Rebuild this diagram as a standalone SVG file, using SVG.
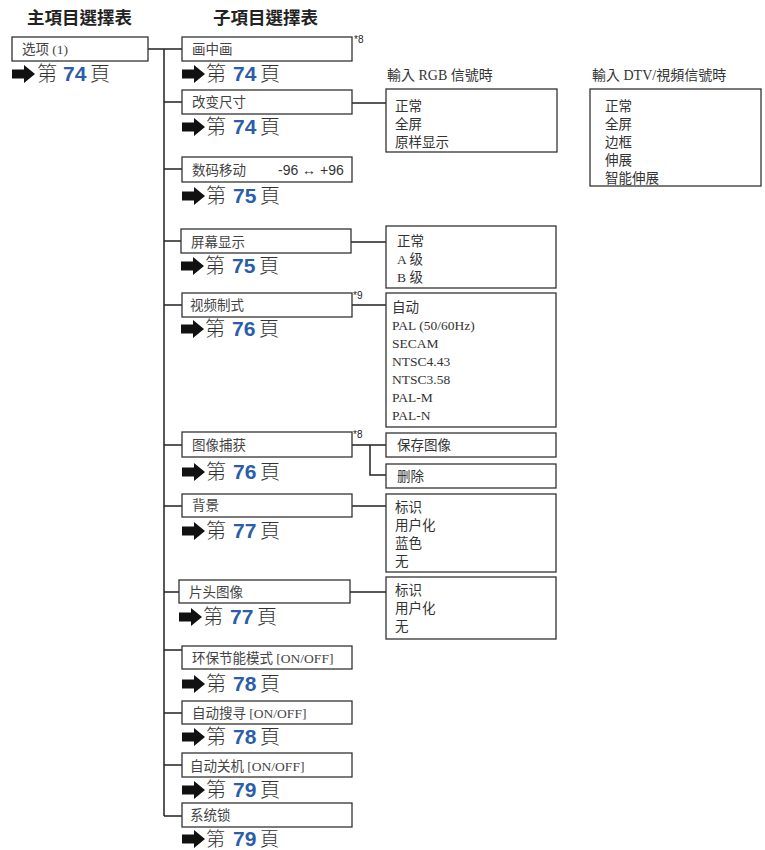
<svg xmlns="http://www.w3.org/2000/svg" width="765" height="850" viewBox="0 0 765 850">
<style>
.bx{fill:#fff;stroke:#333;stroke-width:1.3}
.ln{fill:none;stroke:#222;stroke-width:1.5}
.lb{font-family:"Liberation Serif","Noto Sans CJK SC",serif;font-size:13.5px;fill:#444}
.op{font-family:"Liberation Serif","Noto Sans CJK SC",serif;font-size:13.5px;fill:#333}
.hd{font-family:"Liberation Sans","Noto Sans CJK TC",sans-serif;font-size:17.5px;font-weight:bold;fill:#222}
.sh{font-family:"Liberation Serif","Noto Sans CJK TC",serif;font-size:14px;fill:#333}
.pg{font-family:"Noto Sans CJK TC",sans-serif;font-size:20px;fill:#333;font-weight:300}
.pg2{font-family:"Noto Sans CJK TC",sans-serif;font-size:19px;fill:#333;font-weight:300}
.nm{font-family:"Liberation Sans",sans-serif;font-size:21px;font-weight:bold;fill:#2b5dab}
.st{font-family:"Liberation Sans",sans-serif;font-size:10px;fill:#222}
.sa{font-family:"Liberation Sans",sans-serif;font-size:14px;fill:#333}
.ar{fill:#111}
</style>
<defs>
<path id="arrow" d="M0,-4.5 H12 V-9 L23,0 L12,9 V4.5 H0 Z"/>
</defs>

<text class="hd" x="27" y="24">主項目選擇表</text>
<text class="hd" x="213" y="24">子項目選擇表</text>

<g id="connectors">
<path class="ln" d="M148,49 H164 M164,49 V816 M164,49 H182 M164,102 H182 M164,169 H182 M164,241 H182 M164,305 H182 M164,445 H182 M164,506 H182 M164,592 H179 M164,650 H182 M164,713 H182 M164,765 H182 M164,816 H182"/>
<path class="ln" d="M352,103 H386 M351,242 H386 M352,305 H386 M352,445 H386 M370,445 V475 H386 M352,506 H386 M350,592 H386"/>
</g>

<g id="main">
<rect class="bx" x="12" y="37" width="136" height="24"/>
<text class="lb" x="22" y="54">选项 (1)</text>
<use href="#arrow" class="ar" x="12" y="74"/>
<text x="37" y="81"><tspan class="pg">第</tspan><tspan class="nm" x="63">74</tspan><tspan class="pg" x="90">頁</tspan></text>
</g>

<g id="pip">
<rect class="bx" x="182" y="37" width="170" height="24"/>
<text class="lb" x="192" y="54">画中画</text>
<text class="st" x="354" y="43">*8</text>
<use href="#arrow" class="ar" x="182" y="74"/>
<text x="206" y="81"><tspan class="pg">第</tspan><tspan class="nm" x="233">74</tspan><tspan class="pg" x="260">頁</tspan></text>
</g>

<g id="resize">
<rect class="bx" x="182" y="90" width="170" height="24"/>
<text class="lb" x="192" y="107">改变尺寸</text>
<use href="#arrow" class="ar" x="182" y="127"/>
<text x="206" y="134"><tspan class="pg">第</tspan><tspan class="nm" x="233">74</tspan><tspan class="pg" x="260">頁</tspan></text>
</g>

<g id="rgb-options">
<text class="sh" x="387" y="80">輸入 RGB 信號時</text>
<rect class="bx" x="386" y="89" width="171" height="63"/>
<text class="op" x="395" y="111">正常</text>
<text class="op" x="395" y="129">全屏</text>
<text class="op" x="395" y="147">原样显示</text>
</g>

<g id="dtv-options">
<text class="sh" x="592" y="80">輸入 DTV/視頻信號時</text>
<rect class="bx" x="590" y="89" width="171" height="97"/>
<text class="op" x="605" y="111">正常</text>
<text class="op" x="605" y="129">全屏</text>
<text class="op" x="605" y="147">边框</text>
<text class="op" x="605" y="165">伸展</text>
<text class="op" x="605" y="183">智能伸展</text>
</g>

<g id="digital-shift">
<rect class="bx" x="182" y="157" width="170" height="25"/>
<text class="lb" x="192" y="175">数码移动</text>
<text class="sa" x="278" y="175">-96 ↔ +96</text>
<use href="#arrow" class="ar" x="182" y="196"/>
<text x="206" y="203"><tspan class="pg">第</tspan><tspan class="nm" x="233">75</tspan><tspan class="pg" x="260">頁</tspan></text>
</g>

<g id="osd">
<rect class="bx" x="181" y="229" width="170" height="24"/>
<text class="lb" x="191" y="247">屏幕显示</text>
<use href="#arrow" class="ar" x="181" y="266"/>
<text x="205" y="273"><tspan class="pg">第</tspan><tspan class="nm" x="232">75</tspan><tspan class="pg" x="259">頁</tspan></text>
<rect class="bx" x="386" y="226" width="170" height="62"/>
<text class="op" x="397" y="246">正常</text>
<text class="op" x="397" y="264">A 级</text>
<text class="op" x="397" y="282">B 级</text>
</g>

<g id="video-system">
<rect class="bx" x="182" y="293" width="170" height="24"/>
<text class="lb" x="190" y="310">视频制式</text>
<text class="st" x="353" y="299">*9</text>
<use href="#arrow" class="ar" x="181" y="329"/>
<text x="205" y="336"><tspan class="pg">第</tspan><tspan class="nm" x="232">76</tspan><tspan class="pg" x="259">頁</tspan></text>
<rect class="bx" x="386" y="293" width="170" height="134"/>
<text class="op" x="392" y="312">自动</text>
<text class="op" x="392" y="330">PAL (50/60Hz)</text>
<text class="op" x="392" y="348">SECAM</text>
<text class="op" x="392" y="366">NTSC4.43</text>
<text class="op" x="392" y="384">NTSC3.58</text>
<text class="op" x="392" y="402">PAL-M</text>
<text class="op" x="392" y="420">PAL-N</text>
</g>

<g id="capture">
<rect class="bx" x="182" y="432" width="170" height="25"/>
<text class="lb" x="192" y="450">图像捕获</text>
<text class="st" x="353" y="438">*8</text>
<use href="#arrow" class="ar" x="182" y="472"/>
<text x="206" y="479"><tspan class="pg">第</tspan><tspan class="nm" x="233">76</tspan><tspan class="pg" x="260">頁</tspan></text>
<rect class="bx" x="386" y="433" width="170" height="24"/>
<text class="op" x="397" y="450">保存图像</text>
<rect class="bx" x="386" y="464" width="170" height="24"/>
<text class="op" x="397" y="481">删除</text>
</g>

<g id="background">
<rect class="bx" x="182" y="494" width="170" height="23"/>
<text class="lb" x="192" y="510">背景</text>
<use href="#arrow" class="ar" x="182" y="531"/>
<text x="206" y="538"><tspan class="pg">第</tspan><tspan class="nm" x="233">77</tspan><tspan class="pg" x="260">頁</tspan></text>
<rect class="bx" x="386" y="494" width="170" height="78"/>
<text class="op" x="395" y="512">标识</text>
<text class="op" x="395" y="530">用户化</text>
<text class="op" x="395" y="548">蓝色</text>
<text class="op" x="395" y="566">无</text>
</g>

<g id="startup-image">
<rect class="bx" x="179" y="580" width="171" height="23"/>
<text class="lb" x="189" y="597">片头图像</text>
<use href="#arrow" class="ar" x="179" y="617"/>
<text x="203" y="624"><tspan class="pg">第</tspan><tspan class="nm" x="230">77</tspan><tspan class="pg" x="257">頁</tspan></text>
<rect class="bx" x="386" y="577" width="170" height="62"/>
<text class="op" x="395" y="595">标识</text>
<text class="op" x="395" y="613">用户化</text>
<text class="op" x="395" y="631">无</text>
</g>

<g id="eco-mode">
<rect class="bx" x="182" y="646" width="170" height="23"/>
<text class="lb" x="192" y="663">环保节能模式 [ON/OFF]</text>
<use href="#arrow" class="ar" x="182" y="684"/>
<text x="206" y="691"><tspan class="pg">第</tspan><tspan class="nm" x="233">78</tspan><tspan class="pg" x="260">頁</tspan></text>
</g>

<g id="auto-search">
<rect class="bx" x="182" y="701" width="170" height="23"/>
<text class="lb" x="192" y="718">自动搜寻  [ON/OFF]</text>
<use href="#arrow" class="ar" x="182" y="737"/>
<text x="206" y="744"><tspan class="pg">第</tspan><tspan class="nm" x="233">78</tspan><tspan class="pg" x="260">頁</tspan></text>
</g>

<g id="auto-power-off">
<rect class="bx" x="182" y="753" width="170" height="24"/>
<text class="lb" x="190" y="771">自动关机  [ON/OFF]</text>
<use href="#arrow" class="ar" x="182" y="790"/>
<text x="206" y="797"><tspan class="pg">第</tspan><tspan class="nm" x="233">79</tspan><tspan class="pg" x="260">頁</tspan></text>
</g>

<g id="system-lock">
<rect class="bx" x="182" y="803" width="170" height="24"/>
<text class="lb" x="190" y="820">系统锁</text>
<use href="#arrow" class="ar" x="182" y="839"/>
<text x="206" y="846"><tspan class="pg2">第</tspan><tspan class="nm" x="233">79</tspan><tspan class="pg2" x="260">頁</tspan></text>
</g>
</svg>
